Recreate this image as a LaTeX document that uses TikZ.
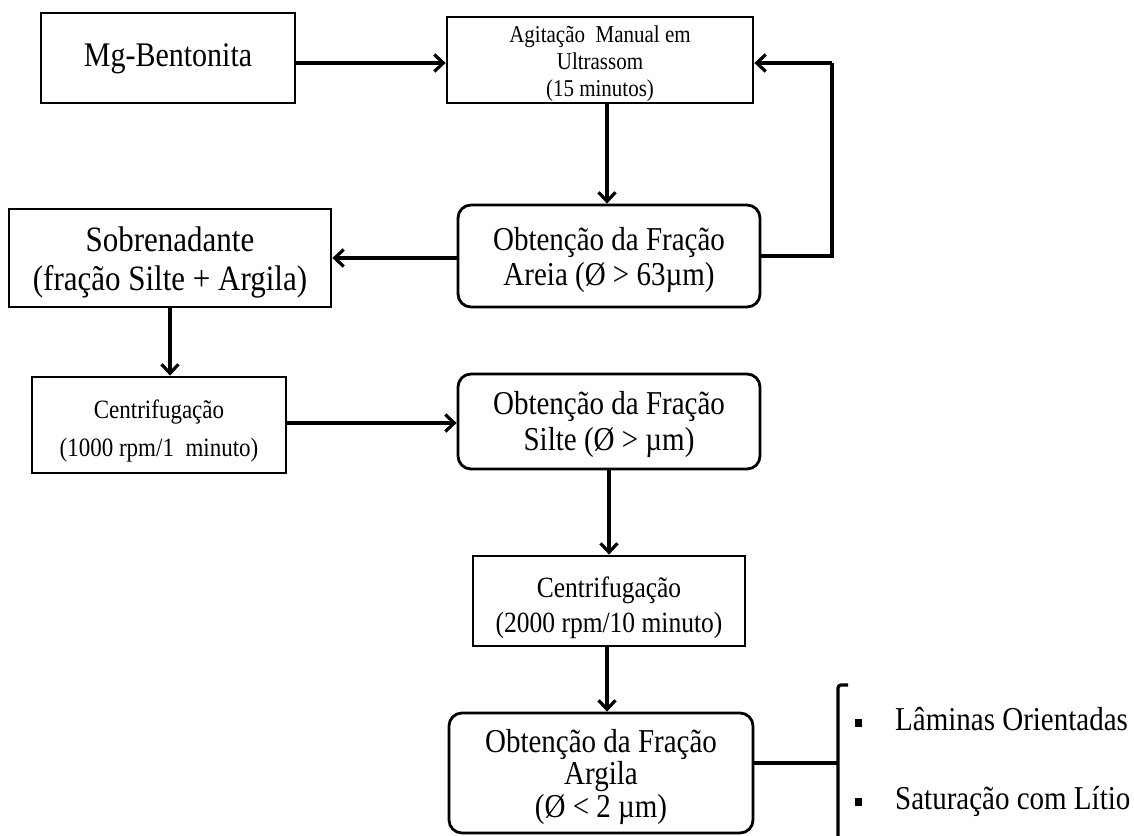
\documentclass[tikz,border=0pt]{standalone}
\usepackage{fontspec}
\usepackage{graphicx}
\setmainfont{Liberation Serif}
\usetikzlibrary{arrows.meta}
\newcommand{\stretchtext}[2][5pt]{\raisebox{-#1}[\height][\depth]{\scalebox{1}[1.15]{\begin{tabular}{@{}c@{}}#2\end{tabular}}}}
\tikzset{
  box/.style={draw, line width=2.8pt, inner sep=0pt, align=center},
  rbox/.style={box, rounded corners=13pt},
  conn/.style={line width=3.2pt, -{Straight Barb[length=9pt,width=17pt]}},
  plain/.style={line width=3.2pt},
  bul/.style={fill, minimum width=7pt, minimum height=8pt, inner sep=0pt},
  item/.style={anchor=west, inner sep=0pt, font=\fontsize{29}{34}\selectfont}
}
\begin{document}
\begin{tikzpicture}[x=1pt,y=-1pt]
\useasboundingbox (0,0) rectangle (1134,835);
\fill[white] (0,0) rectangle (1134,835);

\node[box, minimum width=254pt, minimum height=90pt, font=\fontsize{30}{36}\selectfont] (mg) at (168,58) {\stretchtext[0pt]{Mg-Bentonita}};
\node[box, minimum width=306pt, minimum height=86pt, font=\fontsize{21}{23.5}\selectfont] (agit) at (600,60) {\stretchtext[4pt]{Agitação\ \ Manual em\\Ultrassom\\(15 minutos)}};
\node[rbox, minimum width=302pt, minimum height=102pt, font=\fontsize{29}{30.4}\selectfont] (areia) at (609,256) {\stretchtext[5pt]{Obtenção da Fração\\Areia (Ø > 63µm)}};
\node[box, minimum width=322pt, minimum height=98pt, font=\fontsize{31}{34.7}\selectfont] (sobre) at (170,258) {\stretchtext[5pt]{Sobrenadante\\(fração Silte + Argila)}};
\node[box, minimum width=254pt, minimum height=96pt, font=\fontsize{23}{33}\selectfont] (cen1) at (159,425) {\stretchtext[5pt]{Centrifugação\\(1000 rpm/1\ \ minuto)}};
\node[rbox, minimum width=302pt, minimum height=95pt, font=\fontsize{29}{31.2}\selectfont] (silte) at (609,421.5) {\stretchtext[4pt]{Obtenção da Fração\\Silte (Ø > µm)}};
\node[box, minimum width=272pt, minimum height=90pt, font=\fontsize{25.5}{31}\selectfont] (cen2) at (609,601) {\stretchtext[7pt]{Centrifugação\\(2000 rpm/10 minuto)}};
\node[rbox, minimum width=304pt, minimum height=120pt, font=\fontsize{29}{27.8}\selectfont] (argila) at (601,773) {\stretchtext[5pt]{Obtenção da Fração\\Argila\\(Ø < 2 µm)}};

\coordinate (fb) at (832,256);
\coordinate (ft) at (832,63);
\coordinate (bj) at (838,763);
\coordinate (btop) at (838,685);
\coordinate (bhook) at (848,685);
\coordinate (bbot) at (838,836);

\draw[conn] (mg.east |- 0,63) -- (agit.west |- 0,63);
\draw[conn] ([xshift=7pt]agit.south) -- ([xshift=7pt]agit.south |- areia.north);
\draw[plain] (areia.east) -- (fb) -- (ft);
\draw[conn] (ft) -- (agit.east |- ft);
\draw[conn] (areia.west |- 0,258) -- (sobre.east |- 0,258);
\draw[conn] (sobre.south) -- (sobre.south |- cen1.north);
\draw[conn] (cen1.east |- 0,423) -- (silte.west |- 0,423);
\draw[conn] (silte.south) -- (cen2.north);
\draw[conn] ([xshift=-2pt]cen2.south) -- ([xshift=-2pt]cen2.south |- argila.north);
\draw[plain] (argila.east |- bj) -- (bj);
\draw[plain, rounded corners=3pt] (bhook) -- (btop) -- (bbot);

\node[bul] (b1) at (858,723) {};
\node[bul] (b2) at (858,802) {};
\node[item] (t1) at (895,723) {\stretchtext[0pt]{Lâminas Orientadas}};
\node[item] (t2) at (895,802) {\stretchtext[0pt]{Saturação com Lítio}};
\end{tikzpicture}
\end{document}
